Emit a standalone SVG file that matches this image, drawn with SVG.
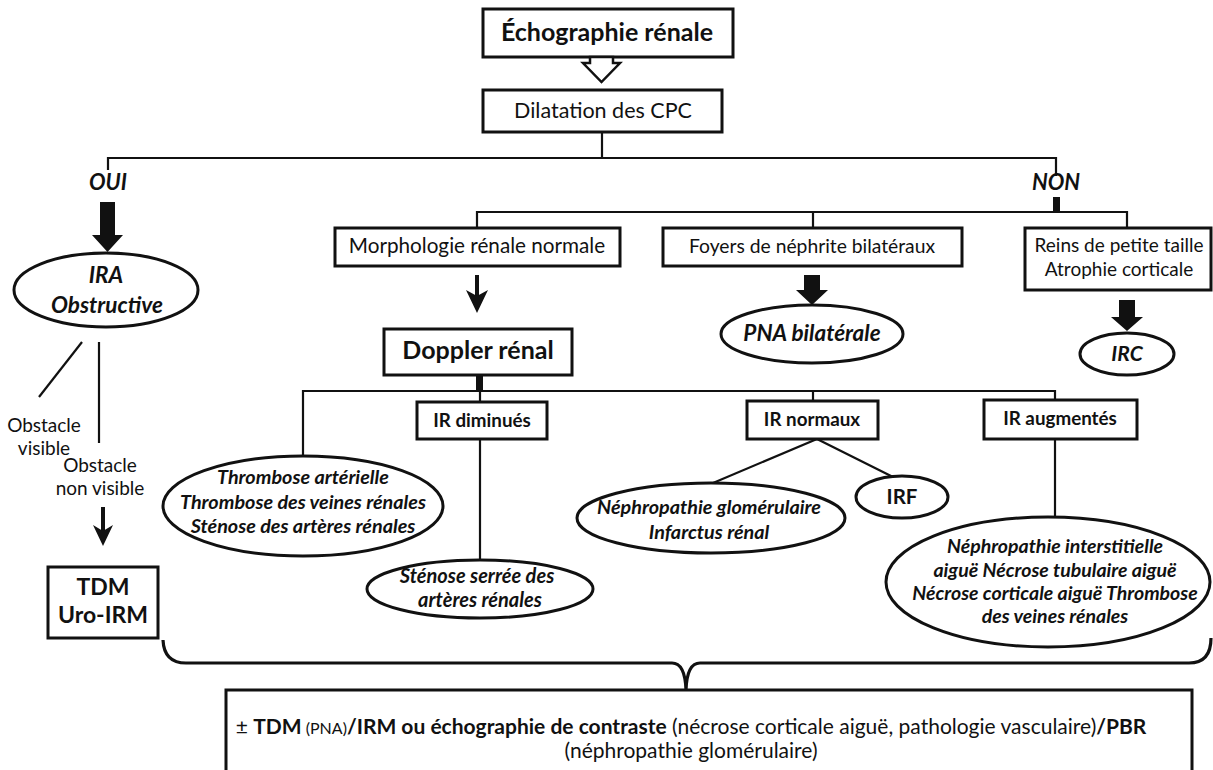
<svg xmlns="http://www.w3.org/2000/svg" width="1213" height="770" viewBox="0 0 1213 770">
<style>
text{font-family:Lato,"Liberation Sans",sans-serif;fill:#111;text-anchor:middle}
.box{fill:#fff;stroke:#111;stroke-width:3}
.ell{fill:#fff;stroke:#111;stroke-width:3}
.ln{fill:none;stroke:#111;stroke-width:2.2}
.brace{fill:none;stroke:#111;stroke-width:3.2;stroke-linejoin:round}
.blk{fill:#111;stroke:none}
.b{font-weight:bold}
.bi{font-weight:bold;font-style:italic}
.r{font-weight:normal}
</style>
<rect width="1213" height="770" fill="#fff"/>
<g id="connectors">
  <polyline class="ln" points="602,132 602,158"/>
  <polyline class="ln" points="108,170 108,158 1056,158 1056,176"/>
  <rect class="blk" x="1053" y="197" width="7" height="16"/>
  <polyline class="ln" points="477,228 477,212 1127,212 1127,228"/>
  <line class="ln" x1="813" y1="212" x2="813" y2="228"/>
  <polygon class="blk" points="100,202 115,202 115,235 123,235 107.5,252 92,235 100,235"/>
  <line class="ln" x1="82" y1="342" x2="39" y2="397"/>
  <line class="ln" x1="99" y1="342" x2="99" y2="443"/>
  <line x1="103" y1="507" x2="103" y2="535" stroke="#111" stroke-width="4"/>
  <path class="blk" d="M93,525 L103,546 L113,525 L103,531 Z"/>
  <line x1="477" y1="275" x2="477" y2="302" stroke="#111" stroke-width="4"/>
  <path class="blk" d="M466,290 L477,313 L488,290 L477,296 Z"/>
  <polygon class="blk" points="804,275 820,275 820,290 828,290 812,305 796,290 804,290"/>
  <polygon class="blk" points="1119,300 1135,300 1135,317 1143,317 1127,331 1111,317 1119,317"/>
  <rect class="blk" x="476" y="375" width="7" height="16"/>
  <polyline class="ln" points="303,456 303,391 1055,391 1055,400"/>
  <line class="ln" x1="480" y1="391" x2="480" y2="402"/>
  <line class="ln" x1="813" y1="391" x2="813" y2="401"/>
  <line class="ln" x1="480" y1="439" x2="480" y2="560"/>
  <line class="ln" x1="817" y1="439" x2="713" y2="483"/>
  <line class="ln" x1="817" y1="439" x2="893" y2="477"/>
  <line class="ln" x1="1055" y1="440" x2="1055" y2="517"/>
  <path class="brace" d="M163,640 Q164,663 186,663 L672,663 Q685,663 686,690 Q687,663 700,663 L1189,663 Q1211,663 1211,638"/>
</g>
<g id="n-echo">
  <rect class="box" x="483" y="9" width="250" height="48"/>
  <text class="b" x="607" y="41" font-size="25">Échographie rénale</text>
  <polygon points="590,57 590,63 583,63 601.5,82 620,63 613,63 613,57" fill="#fff" stroke="#111" stroke-width="2.5"/>
</g>
<g id="n-dilatation">
  <rect class="box" x="483" y="90" width="239" height="42"/>
  <text x="603" y="118" font-size="21.5">Dilatation des CPC</text>
</g>
<g id="n-oui"><text class="bi" x="108" y="190" font-size="22">OUI</text></g>
<g id="n-non"><text class="bi" x="1056" y="190" font-size="22">NON</text></g>
<g id="n-ira">
  <ellipse class="ell" cx="106" cy="290" rx="92" ry="37"/>
  <text class="bi" x="106" y="283" font-size="22.5">IRA</text>
  <text class="bi" x="107" y="313" font-size="22.5">Obstructive</text>
</g>
<g id="n-obst-vis">
  <text x="44" y="432" font-size="19">Obstacle</text>
  <text x="44" y="455" font-size="19">visible</text>
</g>
<g id="n-obst-nonvis">
  <text x="100" y="472" font-size="19">Obstacle</text>
  <text x="100" y="495" font-size="19">non visible</text>
</g>
<g id="n-tdm">
  <rect class="box" x="48" y="567" width="110" height="71"/>
  <text class="b" x="103" y="595" font-size="23">TDM</text>
  <text class="b" x="103" y="623" font-size="23">Uro-IRM</text>
</g>
<g id="n-morpho">
  <rect class="box" x="335" y="228" width="285" height="38"/>
  <text x="477" y="253" font-size="20.7">Morphologie rénale normale</text>
</g>
<g id="n-foyers">
  <rect class="box" x="663" y="228" width="299" height="38"/>
  <text x="812" y="253" font-size="19.3">Foyers de néphrite bilatéraux</text>
</g>
<g id="n-reins">
  <rect class="box" x="1025" y="228" width="186" height="62"/>
  <text x="1119" y="252" font-size="19">Reins de petite taille</text>
  <text x="1119" y="276" font-size="19">Atrophie corticale</text>
</g>
<g id="n-pna">
  <ellipse class="ell" cx="812" cy="334" rx="91" ry="29"/>
  <text class="bi" x="812" y="341" font-size="22.5">PNA bilatérale</text>
</g>
<g id="n-irc">
  <ellipse class="ell" cx="1127" cy="354" rx="47" ry="21"/>
  <text class="bi" x="1127" y="361" font-size="21">IRC</text>
</g>
<g id="n-doppler">
  <rect class="box" x="384" y="329" width="188" height="46"/>
  <text class="b" x="478" y="359" font-size="25">Doppler rénal</text>
</g>
<g id="n-thrombose">
  <ellipse class="ell" cx="303" cy="506" rx="140" ry="50"/>
  <text class="bi" x="303" y="484" font-size="19.8">Thrombose artérielle</text>
  <text class="bi" x="303" y="509" font-size="19.8">Thrombose des veines rénales</text>
  <text class="bi" x="303" y="533" font-size="19.8">Sténose des artères rénales</text>
</g>
<g id="n-irdim">
  <rect class="box" x="417" y="402" width="130" height="37"/>
  <text class="b" x="482" y="427" font-size="18.8">IR diminués</text>
</g>
<g id="n-stenose">
  <ellipse class="ell" cx="480" cy="589" rx="113" ry="29"/>
  <text class="bi" x="477" y="583" font-size="20">Sténose serrée des</text>
  <text class="bi" x="480" y="607" font-size="20">artères rénales</text>
</g>
<g id="n-irnorm">
  <rect class="box" x="747" y="401" width="131" height="38"/>
  <text class="b" x="812" y="426" font-size="18.8">IR normaux</text>
</g>
<g id="n-nephglom">
  <ellipse class="ell" cx="711" cy="518" rx="134" ry="35"/>
  <text class="bi" x="709" y="514" font-size="19.8">Néphropathie glomérulaire</text>
  <text class="bi" x="709" y="539" font-size="19.8">Infarctus rénal</text>
</g>
<g id="n-irf">
  <ellipse class="ell" cx="902" cy="497" rx="46" ry="21"/>
  <text class="b" x="902" y="504" font-size="20.5">IRF</text>
</g>
<g id="n-iraug">
  <rect class="box" x="984" y="400" width="153" height="39"/>
  <text class="b" x="1060" y="425" font-size="18.8">IR augmentés</text>
</g>
<g id="n-nephint">
  <ellipse class="ell" cx="1048" cy="582" rx="162" ry="65"/>
  <text class="bi" x="1055" y="553" font-size="19.5">Néphropathie interstitielle</text>
  <text class="bi" x="1055" y="577" font-size="19.5">aiguë Nécrose tubulaire aiguë</text>
  <text class="bi" x="1055" y="600" font-size="19.5">Nécrose corticale aiguë Thrombose</text>
  <text class="bi" x="1055" y="623" font-size="19.5">des veines rénales</text>
</g>
<g id="n-bottom">
  <rect class="box" x="226" y="690" width="966" height="90"/>
  <text x="691" y="734" font-size="21"><tspan class="r">± </tspan><tspan class="b">TDM</tspan><tspan class="r" font-size="16"> (PNA)</tspan><tspan class="b">/IRM ou échographie de contraste</tspan><tspan class="r"> (nécrose corticale aiguë, pathologie vasculaire)</tspan><tspan class="b">/PBR</tspan></text>
  <text x="691" y="758" font-size="21">(néphropathie glomérulaire)</text>
</g>
</svg>
